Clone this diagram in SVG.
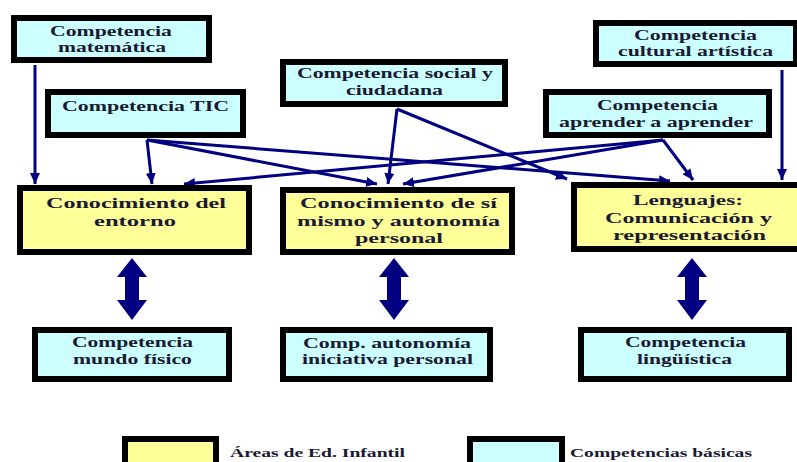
<svg xmlns="http://www.w3.org/2000/svg" width="797" height="462" viewBox="0 0 797 462">
<style>
.box{stroke:#000;stroke-width:6}
.c{fill:#ccffff}
.y{fill:#ffff99}
.t{font-family:"Liberation Serif","Times New Roman",serif;font-weight:bold;font-size:15px;fill:#1a1a33;text-anchor:middle}
.lg{font-family:"Liberation Serif","Times New Roman",serif;font-weight:bold;font-size:13.5px;fill:#1a1a33}
.ln{stroke:#000080;stroke-width:3;fill:none;marker-end:url(#ah)}
.da{fill:#000080}
</style>
<defs>
<marker id="ah" markerUnits="userSpaceOnUse" markerWidth="12" markerHeight="10" refX="11" refY="5" orient="auto">
<path d="M0,0 L11,5 L0,10 z" fill="#000080"/>
</marker>
</defs>
<rect width="797" height="462" fill="#fff"/>
<g id="connectors">
<line class="ln" x1="35" y1="65" x2="35" y2="184"/>
<line class="ln" x1="147" y1="140" x2="152" y2="184"/>
<line class="ln" x1="147" y1="140" x2="377" y2="184"/>
<line class="ln" x1="147" y1="140" x2="670" y2="181"/>
<line class="ln" x1="397" y1="109" x2="388" y2="184"/>
<line class="ln" x1="397" y1="109" x2="567" y2="179"/>
<line class="ln" x1="663" y1="140" x2="184" y2="184"/>
<line class="ln" x1="663" y1="140" x2="403" y2="184"/>
<line class="ln" x1="663" y1="140" x2="693" y2="180"/>
<line class="ln" x1="782" y1="70" x2="782" y2="180"/>
<polygon class="da" points="132,258 147,277 139,277 139,300 147,300 132,320 117,300 125,300 125,277 117,277"/>
<polygon class="da" points="394,258 409,277 401,277 401,300 409,300 394,320 379,300 387,300 387,277 379,277"/>
<polygon class="da" points="692,258 707,277 699,277 699,300 707,300 692,320 677,300 685,300 685,277 677,277"/>
</g>
<g id="matematica">
<rect class="box c" x="14" y="18" width="195" height="42"/>
<text class="t" x="111" y="36" textLength="122" lengthAdjust="spacingAndGlyphs">Competencia</text>
<text class="t" x="112" y="52" textLength="108" lengthAdjust="spacingAndGlyphs">matemática</text>
</g>
<g id="tic">
<rect class="box c" x="48" y="92" width="195" height="43"/>
<text class="t" x="145.5" y="111" textLength="167" lengthAdjust="spacingAndGlyphs">Competencia TIC</text>
</g>
<g id="social">
<rect class="box c" x="283" y="62" width="222" height="42"/>
<text class="t" x="395" y="78" textLength="196" lengthAdjust="spacingAndGlyphs">Competencia social y</text>
<text class="t" x="394.5" y="95" textLength="97" lengthAdjust="spacingAndGlyphs">ciudadana</text>
</g>
<g id="cultural">
<rect class="box c" x="596" y="23" width="200" height="41"/>
<text class="t" x="695.5" y="40" textLength="123" lengthAdjust="spacingAndGlyphs">Competencia</text>
<text class="t" x="695.5" y="56" textLength="155" lengthAdjust="spacingAndGlyphs">cultural artística</text>
</g>
<g id="aprender">
<rect class="box c" x="546" y="92" width="223" height="43"/>
<text class="t" x="657.5" y="110" textLength="121" lengthAdjust="spacingAndGlyphs">Competencia</text>
<text class="t" x="656" y="127" textLength="194" lengthAdjust="spacingAndGlyphs">aprender a aprender</text>
</g>
<g id="entorno">
<rect class="box y" x="20" y="188" width="229" height="64"/>
<text class="t" x="136" y="208" textLength="180" lengthAdjust="spacingAndGlyphs">Conocimiento del</text>
<text class="t" x="135" y="226" textLength="82" lengthAdjust="spacingAndGlyphs">entorno</text>
</g>
<g id="simismo">
<rect class="box y" x="283" y="190" width="229" height="62"/>
<text class="t" x="398.5" y="208" textLength="197" lengthAdjust="spacingAndGlyphs">Conocimiento de sí</text>
<text class="t" x="398.5" y="226" textLength="203" lengthAdjust="spacingAndGlyphs">mismo y autonomía</text>
<text class="t" x="399" y="243" textLength="88" lengthAdjust="spacingAndGlyphs">personal</text>
</g>
<g id="lenguajes">
<rect class="box y" x="574" y="185" width="228" height="64"/>
<text class="t" x="688" y="205" textLength="110" lengthAdjust="spacingAndGlyphs">Lenguajes:</text>
<text class="t" x="688.5" y="223" textLength="167" lengthAdjust="spacingAndGlyphs">Comunicación y</text>
<text class="t" x="689.5" y="240" textLength="153" lengthAdjust="spacingAndGlyphs">representación</text>
</g>
<g id="mundofisico">
<rect class="box c" x="35" y="330" width="194" height="49"/>
<text class="t" x="132.5" y="347" textLength="121" lengthAdjust="spacingAndGlyphs">Competencia</text>
<text class="t" x="132.5" y="364" textLength="119" lengthAdjust="spacingAndGlyphs">mundo físico</text>
</g>
<g id="autonomia">
<rect class="box c" x="283" y="330" width="207" height="49"/>
<text class="t" x="387" y="348" textLength="168" lengthAdjust="spacingAndGlyphs">Comp. autonomía</text>
<text class="t" x="387.5" y="364" textLength="171" lengthAdjust="spacingAndGlyphs">iniciativa personal</text>
</g>
<g id="linguistica">
<rect class="box c" x="581" y="330" width="208" height="49"/>
<text class="t" x="685.5" y="347" textLength="121" lengthAdjust="spacingAndGlyphs">Competencia</text>
<text class="t" x="684.5" y="364" textLength="95" lengthAdjust="spacingAndGlyphs">lingüística</text>
</g>
<g id="legend-areas">
<rect class="box y" x="125" y="439" width="91" height="40"/>
<text class="lg" x="230" y="457" textLength="175" lengthAdjust="spacingAndGlyphs">Áreas de Ed. Infantil</text>
</g>
<g id="legend-competencias">
<rect class="box c" x="470" y="439" width="92" height="40"/>
<text class="lg" x="570" y="457" textLength="182" lengthAdjust="spacingAndGlyphs">Competencias básicas</text>
</g>
</svg>
